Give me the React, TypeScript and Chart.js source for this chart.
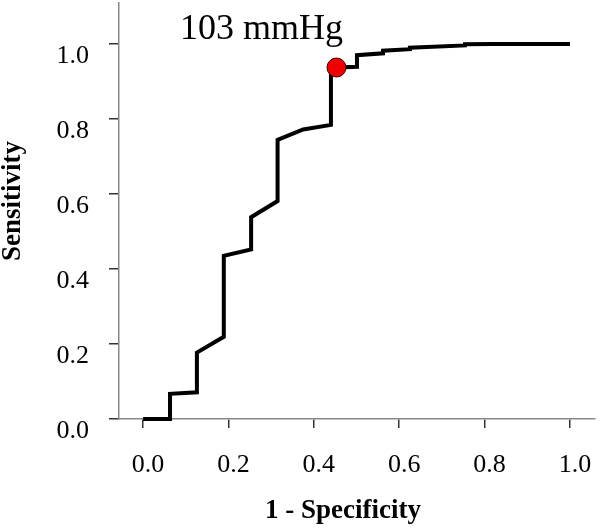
import React, { useEffect, useRef } from "react";
import { Chart, registerables } from "chart.js";

Chart.register(...registerables);

const SERIF = "'Liberation Serif', 'Times New Roman', serif";

// ROC curve (1 - specificity, sensitivity)
const fprValues = [
  0, 0.063, 0.063, 0.126, 0.126, 0.189, 0.189, 0.253, 0.253, 0.315, 0.315, 0.375, 0.44, 0.44,
  0.453, 0.501, 0.501, 0.562, 0.562, 0.625, 0.625, 0.754, 0.754, 0.817, 1.0,
];
const tprValues = [
  0, 0, 0.067, 0.071, 0.177, 0.219, 0.435, 0.452, 0.538, 0.581, 0.744, 0.772, 0.784, 0.937,
  0.937, 0.939, 0.97, 0.975, 0.982, 0.986, 0.99, 0.996, 0.999, 1.0, 1.0,
];

// optimal cut-off point
const cutoffFpr = [0.453];
const cutoffTpr = [0.937];
const cutoffLabel = "103 mmHg";
const cutoffLabelAt = { x: 0.2775, y: 1.013 };

const xTickValues = [0, 0.2, 0.4, 0.6, 0.8, 1.0];
const yTickValues = [0, 0.2, 0.4, 0.6, 0.8, 1.0];
const xTitle = "1 - Specificity";
const yTitle = "Sensitivity";

const textPlugin = {
  id: "rocText",
  afterDraw(chart: any) {
    const ctx = chart.ctx;
    const xs = chart.scales.x;
    const ys = chart.scales.y;
    ctx.save();
    ctx.fillStyle = "#000";
    // cut-off label
    ctx.font = `36px ${SERIF}`;
    ctx.textAlign = "center";
    ctx.textBaseline = "alphabetic";
    ctx.fillText(
      cutoffLabel,
      xs.getPixelForValue(cutoffLabelAt.x),
      ys.getPixelForValue(cutoffLabelAt.y)
    );
    // axis titles
    ctx.font = `bold 27px ${SERIF}`;
    ctx.fillText(xTitle, 343, 518);
    ctx.translate(20, 201);
    ctx.rotate(-Math.PI / 2);
    ctx.fillText(yTitle, 0, 0);
    ctx.restore();
  },
};

const zeroPadding = (s: any) => {
  s.paddingTop = 0;
  s.paddingBottom = 0;
  s.paddingLeft = 0;
  s.paddingRight = 0;
};

export default function App() {
  const ref = useRef<HTMLCanvasElement | null>(null);

  useEffect(() => {
    if (!ref.current) return;
    const chart = new Chart(ref.current, {
      type: "scatter",
      data: {
        datasets: [
          {
            label: "cut-off",
            data: cutoffFpr.map((x, i) => ({ x, y: cutoffTpr[i] })),
            pointRadius: 9.5,
            pointBackgroundColor: "#ee0000",
            pointBorderColor: "#3a0000",
            pointBorderWidth: 1,
            order: 0,
            clip: false as any,
          },
          {
            label: "ROC",
            data: fprValues.map((x, i) => ({ x, y: tprValues[i] })),
            showLine: true,
            borderColor: "#000",
            borderWidth: 4,
            pointRadius: 0,
            tension: 0,
            fill: false,
            borderJoinStyle: "miter",
            order: 1,
            clip: false as any,
          },
        ],
      },
      options: {
        animation: false,
        responsive: false,
        devicePixelRatio: 1,
        layout: { autoPadding: false, padding: { left: 0, right: 5, top: 3, bottom: 0 } },
        plugins: { legend: { display: false }, tooltip: { enabled: false } },
        scales: {
          x: {
            type: "linear",
            min: -0.0565,
            max: 1.0586,
            afterBuildTicks: (s: any) => {
              s.ticks = xTickValues.map((v) => ({ value: v }));
            },
            afterFit: (s: any) => {
              s.height = 113;
              zeroPadding(s);
            },
            ticks: {
              callback: (v: any) => Number(v).toFixed(1),
              font: { family: SERIF, size: 26 },
              color: "#000",
              padding: 22,
              labelOffset: 5,
              autoSkip: false,
              maxRotation: 0,
            },
            grid: {
              display: true,
              drawOnChartArea: false,
              drawTicks: true,
              tickLength: 9,
              color: "#333",
              lineWidth: 1.5,
            },
            border: { display: true, color: "#888", width: 1.5 },
          },
          y: {
            type: "linear",
            min: 0,
            max: 1.109,
            afterBuildTicks: (s: any) => {
              s.ticks = yTickValues.map((v) => ({ value: v }));
            },
            afterFit: (s: any) => {
              s.width = 119;
              zeroPadding(s);
            },
            ticks: {
              callback: (v: any) => Number(v).toFixed(1),
              font: { family: SERIF, size: 26 },
              color: "#000",
              padding: 20,
              labelOffset: 12,
              autoSkip: false,
            },
            grid: {
              display: true,
              drawOnChartArea: false,
              drawTicks: true,
              tickLength: 10,
              color: "#333",
              lineWidth: 1.5,
            },
            border: { display: true, color: "#888", width: 1.5 },
          },
        },
      },
      plugins: [textPlugin],
    } as any);
    return () => chart.destroy();
  }, []);

  return (
    <div
      style={{
        position: "absolute",
        left: 0,
        top: 0,
        width: 600,
        height: 532,
        background: "#fff",
      }}
    >
      <canvas ref={ref} width={600} height={532} />
    </div>
  );
}
